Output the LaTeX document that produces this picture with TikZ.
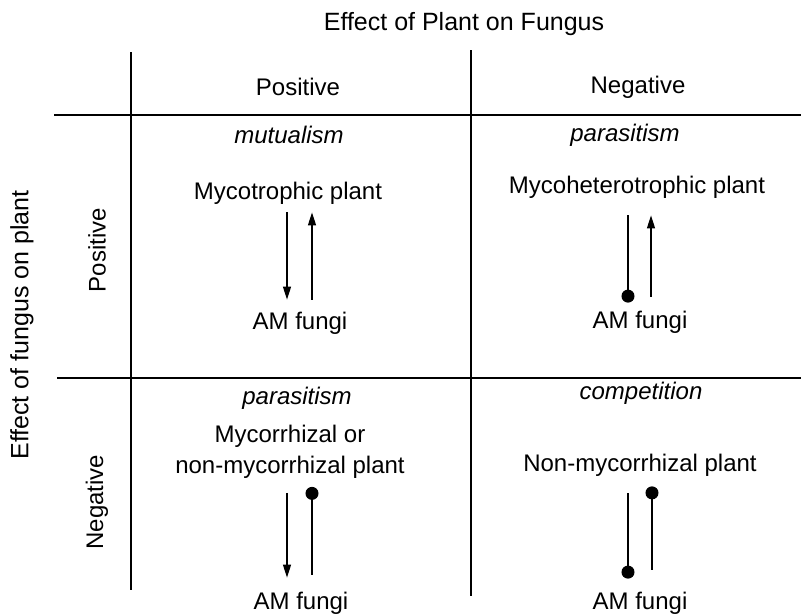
\documentclass[tikz,border=0pt]{standalone}
\usepackage{fontspec}
\setmainfont{Liberation Sans}
\usetikzlibrary{arrows.meta,calc}

\begin{document}
\begin{tikzpicture}[x=1pt, y=-1pt,
    font=\fontsize{24}{31}\selectfont,
    lbl/.style={inner sep=0pt, align=center},
    kind/.style={lbl, font=\fontsize{24}{31}\selectfont\itshape},
    rule/.style={line width=1.6pt},
    gain/.style={-{Triangle[length=13pt,width=8pt]}, line width=1.3pt},
    harm/.style={-{Circle[length=13pt]}, line width=1.3pt},
  ]
  \fill[white] (0,0) rectangle (801,616);
  \useasboundingbox (0,0) rectangle (801,616);

  % --- table rules ---
  \draw[rule] (54,115) -- (801,115);
  \draw[rule] (57,378) -- (801,378);
  \draw[rule] (131,52) -- (131,590);
  \draw[rule] (471,50) -- (471,596);

  % --- axis titles + column/row headers ---
  \node[lbl, font=\fontsize{25}{30}\selectfont] (title) at (464,24) {Effect of Plant on Fungus};
  \node[lbl] (colpos) at (298,87) {Positive};
  \node[lbl] (colneg) at (638,87) {Negative};
  \node[lbl, rotate=90, font=\fontsize{25}{30}\selectfont] (side) at (22,325) {Effect of fungus on plant};
  \node[lbl, rotate=90] (rowpos) at (97,250) {Positive};
  \node[lbl, rotate=90] (rowneg) at (97,502) {Negative};

  % --- interaction names ---
  \node[kind] (mutu) at (289,135) {mutualism};
  \node[kind] (parA) at (625,135) {parasitism};
  \node[kind] (parB) at (297,398) {parasitism};
  \node[kind] (comp) at (641,393) {competition};

  % --- partners ---
  \node[lbl] (plantA) at (288,193) {Mycotrophic plant};
  \node[lbl] (fungiA) at (300,323) {AM fungi};
  \node[lbl] (plantB) at (637,187) {Mycoheterotrophic plant};
  \node[lbl] (fungiB) at (640,322) {AM fungi};
  \node[lbl] (plantC) at (290,452) {Mycorrhizal or\\non-mycorrhizal plant};
  \node[lbl] (fungiC) at (301,603) {AM fungi};
  \node[lbl] (plantD) at (640,465) {Non-mycorrhizal plant};
  \node[lbl] (fungiD) at (640,603) {AM fungi};

  % --- mutualism ---
  \draw[gain] ($(287,0 |- plantA.south)+(0,8)$) -- ($(287,0 |- fungiA.north)+(0,-12)$);
  \draw[gain] ($(312,0 |- fungiA.north)+(0,-12)$) -- ($(312,0 |- plantA.south)+(0,8)$);

  % --- parasitism (plant on fungus) ---
  \draw[harm] ($(628,0 |- plantB.south)+(0,17)$) -- ($(628,0 |- fungiB.north)+(0,-8)$);
  \draw[gain] ($(651,0 |- fungiB.north)+(0,-14)$) -- ($(651,0 |- plantB.south)+(0,17)$);

  % --- parasitism (fungus on plant) ---
  \draw[gain] ($(287,0 |- plantC.south)+(0,14)$) -- ($(287,0 |- fungiC.north)+(0,-14)$);
  \draw[harm] ($(312,0 |- fungiC.north)+(0,-17)$) -- ($(312,0 |- plantC.south)+(0,8)$);

  % --- competition ---
  \draw[harm] ($(628,0 |- plantD.south)+(0,17)$) -- ($(628,0 |- fungiD.north)+(0,-13)$);
  \draw[harm] ($(652,0 |- fungiD.north)+(0,-22)$) -- ($(652,0 |- plantD.south)+(0,10)$);
\end{tikzpicture}
\end{document}
